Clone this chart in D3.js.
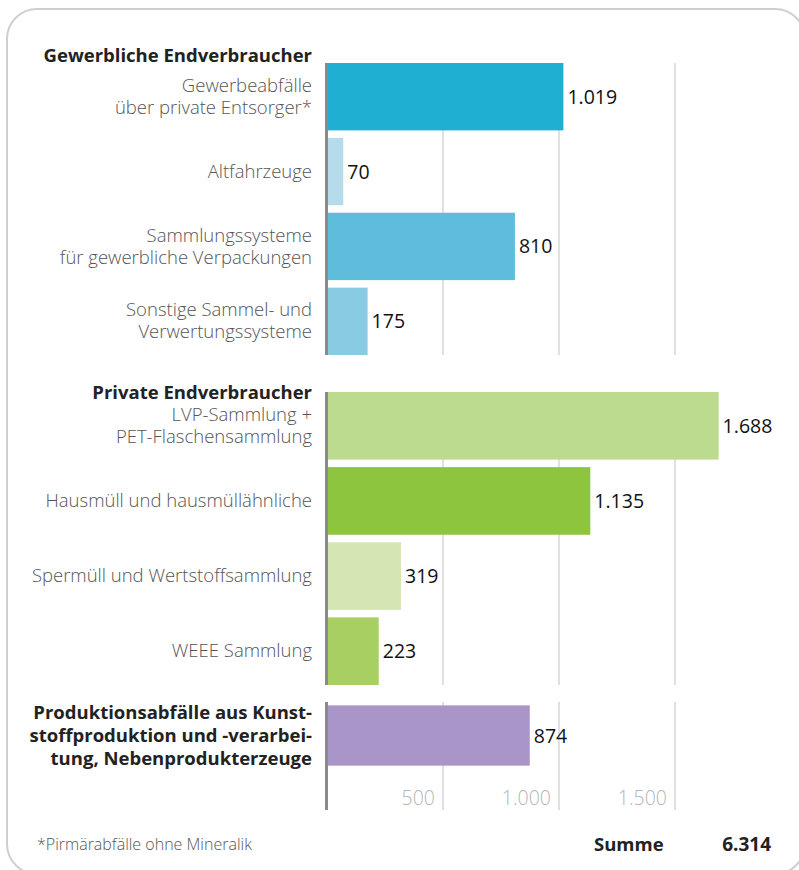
<!DOCTYPE html>
<html>
<head>
<meta charset="utf-8">
<script src="https://cdn.jsdelivr.net/npm/d3@7"></script>
<style>
  body { margin: 0; background: #fff; }
  svg { display: block; font-family: "Open Sans", sans-serif; }
</style>
</head>
<body>
<svg width="799" height="870"></svg>
<script>
// Data (Tsd. t)
var groupNames = [
  "Gewerbliche Endverbraucher",
  "Private Endverbraucher",
  "Produktionsabfälle aus Kunst-|stoffproduktion und -verarbei-|tung, Nebenprodukterzeuge"
];
var categories1 = [
  "Gewerbeabfälle|über private Entsorger*",
  "Altfahrzeuge",
  "Sammlungssysteme|für gewerbliche Verpackungen",
  "Sonstige Sammel- und|Verwertungssysteme"
];
var values1 = [1019, 70, 810, 175];
var categories2 = [
  "LVP-Sammlung +|PET-Flaschensammlung",
  "Hausmüll und hausmüllähnliche",
  "Spermüll und Wertstoffsammlung",
  "WEEE Sammlung"
];
var values2 = [1688, 1135, 319, 223];
var categories3 = [""];
var values3 = [874];
var colors1 = ["#1eafd2", "#b5dcea", "#5dbddb", "#8acbe4"];
var colors2 = ["#bddb8e", "#8dc53f", "#d3e6b4", "#a8cf62"];
var colors3 = ["#a995c8"];
var tickValues = [500, 1000, 1500];
var footnote = "*Pirmärabfälle ohne Mineralik";
var totalLabel = "Summe";
var totalValue = 6314;

var de = d3.formatLocale({ decimal: ",", thousands: ".", grouping: [3], currency: ["", " €"] });
var fmt = de.format(",d");

var svg = d3.select("svg");

// frame
svg.append("rect")
  .attr("x", 7).attr("y", 9)
  .attr("width", 798).attr("height", 865)
  .attr("rx", 30)
  .attr("fill", "none")
  .attr("stroke", "#cfcfcf")
  .attr("stroke-width", 2);

var x = d3.scaleLinear().domain([0, 1500]).range([327, 675]);

var groups = [
  { name: groupNames[0], cats: categories1, vals: values1, cols: colors1, range: [63, 355], axisEnd: 355, headY: 62, bold: false },
  { name: groupNames[1], cats: categories2, vals: values2, cols: colors2, range: [392, 685], axisEnd: 685, headY: 399, bold: false },
  { name: groupNames[2], cats: categories3, vals: values3, cols: colors3, range: [702, 769], axisEnd: 810, headY: null, bold: true }
];

var labelX = 312;
var labelSize = 18.5;

groups.forEach(function (grp) {
  var y = d3.scaleBand()
    .domain(grp.cats.map(function (c, i) { return i; }))
    .range(grp.range)
    .paddingInner(0.1)
    .paddingOuter(0);

  var g = svg.append("g");

  // gridlines
  g.selectAll(".grid")
    .data(tickValues)
    .enter()
    .append("line")
    .attr("x1", function (d) { return x(d); })
    .attr("x2", function (d) { return x(d); })
    .attr("y1", grp.range[0])
    .attr("y2", grp.axisEnd)
    .attr("stroke", "#e0e0e0")
    .attr("stroke-width", 2);

  // bars
  g.selectAll(".bar")
    .data(grp.vals)
    .enter()
    .append("rect")
    .attr("x", x(0))
    .attr("y", function (d, i) { return y(i); })
    .attr("width", function (d) { return x(d) - x(0); })
    .attr("height", y.bandwidth())
    .attr("fill", function (d, i) { return grp.cols[i]; });

  // value labels
  g.selectAll(".val")
    .data(grp.vals)
    .enter()
    .append("text")
    .attr("x", function (d) { return x(d) + 4; })
    .attr("y", function (d, i) { return y(i) + y.bandwidth() / 2; })
    .attr("dy", "0.36em")
    .attr("font-size", 19.5)
    .attr("fill", "#111")
    .text(function (d) { return fmt(d); });

  // axis line
  g.append("line")
    .attr("x1", x(0) - 0.5).attr("x2", x(0) - 0.5)
    .attr("y1", grp.range[0]).attr("y2", grp.axisEnd)
    .attr("stroke", "#8a8a8a")
    .attr("stroke-width", 3);

  // category labels
  var cats = grp.bold ? [grp.name] : grp.cats;
  var lineH = grp.bold ? 23 : 22;
  cats.forEach(function (c, i) {
    var lines = c.split("|");
    var cy = y(i) + y.bandwidth() / 2;
    var t = g.append("text")
      .attr("text-anchor", "end")
      .attr("font-size", labelSize)
      .attr("font-weight", grp.bold ? 700 : 300)
      .attr("fill", grp.bold ? "#222" : "#555");
    lines.forEach(function (ln, li) {
      t.append("tspan")
        .attr("x", labelX)
        .attr("y", cy + (li - (lines.length - 1) / 2) * lineH)
        .attr("dy", "0.33em")
        .text(ln);
    });
  });

  // group heading
  if (grp.headY !== null) {
    g.append("text")
      .attr("x", labelX)
      .attr("y", grp.headY)
      .attr("text-anchor", "end")
      .attr("font-size", labelSize)
      .attr("font-weight", 700)
      .attr("fill", "#222")
      .text(grp.name);
  }
});

// tick labels
svg.selectAll(".tick-label")
  .data(tickValues)
  .enter()
  .append("text")
  .attr("x", function (d) { return x(d) - 8; })
  .attr("y", 805)
  .attr("text-anchor", "end")
  .attr("font-size", 19.5)
  .attr("font-weight", 300)
  .attr("fill", "#b5b5b5")
  .text(function (d) { return fmt(d); });

// footer
svg.append("text")
  .attr("x", 37).attr("y", 850)
  .attr("font-size", 16)
  .attr("font-weight", 300)
  .attr("fill", "#555")
  .text(footnote);

svg.append("text")
  .attr("x", 594).attr("y", 851)
  .attr("font-size", 18.5)
  .attr("font-weight", 700)
  .attr("fill", "#222")
  .text(totalLabel);

svg.append("text")
  .attr("x", 771).attr("y", 851)
  .attr("text-anchor", "end")
  .attr("font-size", 19)
  .attr("font-weight", 700)
  .attr("fill", "#222")
  .text(fmt(totalValue));
</script>
</body>
</html>
